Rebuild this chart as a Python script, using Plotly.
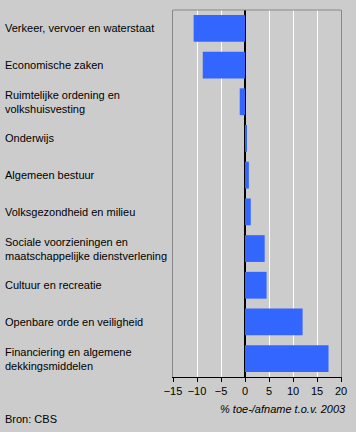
import plotly.graph_objects as go

categories = [
    "Verkeer, vervoer en waterstaat",
    "Economische zaken",
    "Ruimtelijke ordening en<br>volkshuisvesting",
    "Onderwijs",
    "Algemeen bestuur",
    "Volksgezondheid en milieu",
    "Sociale voorzieningen en<br>maatschappelijke dienstverlening",
    "Cultuur en recreatie",
    "Openbare orde en veiligheid",
    "Financiering en algemene<br>dekkingsmiddelen",
]
values = [-10.7, -8.8, -1.1, 0.35, 0.8, 1.2, 4.1, 4.5, 12.0, 17.4]
tick_vals = [-15, -10, -5, 0, 5, 10, 15, 20]
x_title = "% toe-/afname t.o.v. 2003"
source = "Bron: CBS"

W, H = 356, 432
ML, MR, MT, MB = 173, 15, 10, 55
plot_w = W - ML - MR

FONT = "Liberation Sans, Arial, sans-serif"

fig = go.Figure(go.Bar(
    x=values, y=categories, orientation="h",
    marker=dict(color="#3366ff", line=dict(width=0)),
    width=0.73,
    hoverinfo="skip",
))

annotations = []
for c in categories:
    annotations.append(dict(
        x=(3 - ML) / plot_w, xref="paper", y=c, yref="y",
        text=c, showarrow=False, xanchor="left", align="left",
        font=dict(family=FONT, size=11, color="black"),
    ))
annotations.append(dict(
    x=(W - 8 - ML) / plot_w, xref="paper", y=-0.087, yref="paper",
    text=x_title, showarrow=False, xanchor="right", yanchor="middle",
    font=dict(family=FONT, size=11, color="black", style="italic"),
))
annotations.append(dict(
    x=(3 - ML) / plot_w, xref="paper", y=-0.115, yref="paper",
    text=source, showarrow=False, xanchor="left", yanchor="middle",
    font=dict(family=FONT, size=11, color="black"),
))

fig.update_layout(
    width=W, height=H,
    margin=dict(l=ML, r=MR, t=MT, b=MB),
    paper_bgcolor="#cccccc", plot_bgcolor="#cccccc",
    showlegend=False,
    annotations=annotations,
    xaxis=dict(
        range=[-15, 20], tickvals=tick_vals,
        showgrid=True, gridcolor="white", gridwidth=1,
        zeroline=True, zerolinecolor="black", zerolinewidth=1.5,
        showline=True, linecolor="black", linewidth=1,
        ticks="outside", ticklen=4, tickcolor="black",
        tickfont=dict(family=FONT, size=11, color="black"),
        fixedrange=True,
    ),
    yaxis=dict(
        autorange="reversed", showticklabels=False, showgrid=False,
        showline=True, linecolor="#888888", linewidth=1, mirror=True,
        ticks="", fixedrange=True,
    ),
    shapes=[dict(type="line", xref="paper", yref="paper", x0=0, x1=1, y0=1, y1=1,
                 line=dict(color="#888888", width=1))],
    font=dict(family=FONT, size=11, color="black"),
)

fig.write_html(
    "out.html",
    config={"displayModeBar": False},
    post_script="document.body.style.margin='0';document.body.style.background='#cccccc';",
)
